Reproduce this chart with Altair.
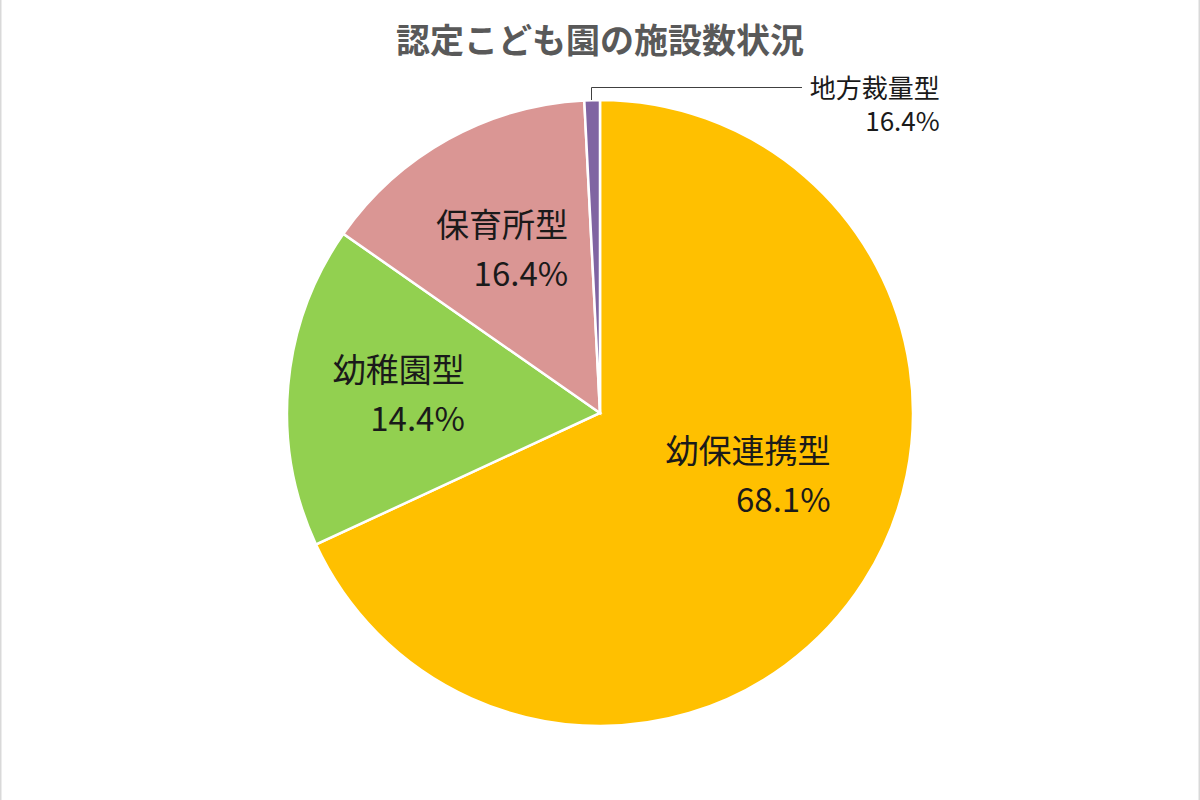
import math
import altair as alt
import pandas as pd

# ---- data ----
categories = ["幼保連携型", "幼稚園型", "保育所型", "地方裁量型"]
shares = [68.1, 16.6, 14.5, 0.8]          # slice sizes as drawn (%)
label_texts = ["68.1%", "14.4%", "16.4%", "16.4%"]  # percentage labels as printed
colors = ["#FFC000", "#92D050", "#DA9694", "#8064A2"]
title_text = "認定こども園の施設数状況"

df = pd.DataFrame({
    "cat": categories,
    "value": shares,
    "pct": label_texts,
    "idx": list(range(len(categories))),
})
df["label"] = df["cat"] + "\n" + df["pct"]

FONT = "Noto Sans CJK JP"
W, H, TOP = 1200, 774, 26

color_scale = alt.Scale(domain=categories, range=colors)

pie = alt.Chart(df).mark_arc(outerRadius=313, stroke="white", strokeWidth=2.5).encode(
    theta=alt.Theta("value:Q", stack=True),
    color=alt.Color("cat:N", scale=color_scale, legend=None),
    order=alt.Order("idx:Q"),
)

base_lbl = alt.Chart(df).transform_stack(
    stack="value", groupby=[], as_=["v0", "v1"], sort=[alt.SortField("idx")]
).transform_calculate(mid="(datum.v0 + datum.v1) / 2")


def label_layer(cat, radius, dx, dy, size, line_h):
    return base_lbl.transform_filter(alt.datum.cat == cat).mark_text(
        radius=radius, align="right", baseline="middle", lineBreak="\n",
        lineHeight=line_h, fontSize=size, font=FONT, color="#1a1a1a", dx=dx, dy=dy,
    ).encode(
        theta=alt.Theta("mid:Q", stack=None, scale=alt.Scale(domain=[0, 100], range=[0, 2 * math.pi])),
        text="label:N",
    )


lbl1 = label_layer("幼保連携型", 200, 62, -68, 33, 49)
lbl2 = label_layer("幼稚園型", 200, 64, -23, 33, 49)
lbl3 = label_layer("保育所型", 200, 65, -11, 33, 49)
lbl4 = label_layer("地方裁量型", 330, 348, 7, 26, 33)

# leader line for the small slice
leader_v = alt.Chart(df.head(1)).mark_rule(color="#404040", strokeWidth=1).encode(
    x=alt.value(591.5), y=alt.value(100 - TOP), y2=alt.value(87.5 - TOP)
)
leader_h = alt.Chart(df.head(1)).mark_rule(color="#404040", strokeWidth=1).encode(
    x=alt.value(591.5), x2=alt.value(802), y=alt.value(87.5 - TOP)
)

# thin frame lines at the left/right edges
border_l = alt.Chart(df.head(1)).mark_rule(color="#d9d9d9", strokeWidth=1.5).encode(
    x=alt.value(0.75), y=alt.value(-TOP), y2=alt.value(H)
)
border_r = alt.Chart(df.head(1)).mark_rule(color="#d9d9d9", strokeWidth=1.5).encode(
    x=alt.value(W - 0.75), y=alt.value(-TOP), y2=alt.value(H)
)

title = alt.Chart(pd.DataFrame({"t": [title_text]})).mark_text(
    font=FONT, fontSize=34, fontWeight="bold", color="#595959",
    align="center", baseline="middle",
).encode(x=alt.value(W / 2), y=alt.value(43 - TOP), text="t:N")

chart = alt.layer(
    pie, lbl1, lbl2, lbl3, lbl4, leader_v, leader_h, border_l, border_r, title
).resolve_scale(theta="independent").properties(
    width=W, height=H,
    padding={"top": TOP, "left": 0, "right": 0, "bottom": 0},
    autosize=alt.AutoSizeParams(type="none"),
    background="white",
).configure_view(strokeWidth=0)

chart.save("out.html", embed_options={"renderer": "svg", "actions": False})
